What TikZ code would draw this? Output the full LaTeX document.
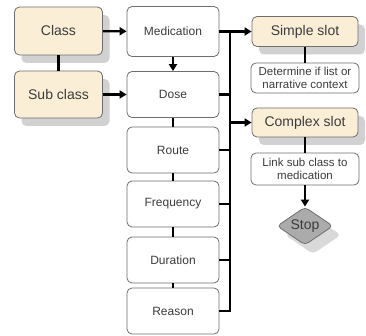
\documentclass[tikz,border=0pt]{standalone}
\usepackage{fontspec}
\setmainfont{Liberation Sans}
\usetikzlibrary{positioning,arrows.meta,shapes.geometric,shadows}
\definecolor{slottan}{HTML}{FAEFD6}
\definecolor{boxline}{HTML}{6E6E6E}
\definecolor{txtgray}{HTML}{3C3C3C}

\begin{document}
\begin{tikzpicture}[x=1pt,y=-1pt,>={Triangle[length=7pt,width=8pt]},
  tanbox/.style={draw=boxline,line width=0.8pt,rounded corners=5pt,fill=slottan,text=txtgray,font=\fontsize{14}{16}\selectfont,drop shadow={shadow xshift=7pt,shadow yshift=-8pt,fill=black!18,opacity=1}},
  medbox/.style={draw=boxline,line width=0.8pt,rounded corners=5pt,fill=white,text=txtgray,font=\fontsize{12}{14}\selectfont,minimum width=92pt,minimum height=46pt},
  notebox/.style={draw=boxline,line width=0.8pt,rounded corners=5pt,fill=white,text=txtgray,font=\fontsize{11.5}{12.5}\selectfont,align=center,minimum width=108pt,minimum height=30pt,inner sep=1pt},
  conn/.style={line width=2.2pt}]
\useasboundingbox (0,0) rectangle (366,336);
\node[tanbox,minimum width=88pt,minimum height=48pt] (class) at (58.5,31) {Class};
\node[tanbox,minimum width=88pt,minimum height=47pt] (subclass) at (58.5,94.5) {Sub class};
\node[medbox,minimum height=50pt] (med) at (173,31.5) {Medication};
\node[medbox] (dose) at (173,94.5) {Dose};
\node[medbox] (route) at (173,150) {Route};
\node[medbox] (freq) at (173,204) {Frequency};
\node[medbox] (dur) at (173,260) {Duration};
\node[medbox] (reason) at (173,311) {Reason};
\node[tanbox,minimum width=106pt,minimum height=30pt] (simple) at (305,31.5) {Simple slot};
\node[notebox] (determine) at (305,78) {Determine if list or\\narrative context};
\node[tanbox,minimum width=106pt,minimum height=29pt] (complex) at (305,122.5) {Complex slot};
\node[notebox,minimum height=32pt] (link) at (305,169) {Link sub class to\\medication};
\node[diamond,aspect=1.45,draw=boxline,line width=0.8pt,rounded corners=4pt,fill=black!33,text=txtgray,font=\fontsize{14}{16}\selectfont,minimum width=56pt,minimum height=38pt,inner sep=0pt,drop shadow={shadow xshift=8pt,shadow yshift=-9pt,fill=black!15,opacity=1}] (stop) at (305,226) {Stop};
\coordinate (bus) at (230,31.5);
% left column into the list
\draw[conn] (class) -- (subclass);
\draw[conn,->] (class) -- (med);
\draw[conn,->] (subclass) -- (dose);
\draw[conn,->] (med) -- (dose);
\draw[conn] (dose) -- (route);
\draw[conn] (route) -- (freq);
\draw[conn] (freq) -- (dur);
\draw[conn] (dur) -- (reason);
% bus to the slots
\draw[conn] (med.east) -- (bus) |- (reason.east);
\foreach \n in {dose,route,freq,dur}
  \draw[conn] (\n.east) -- (\n.east -| bus);
\draw[conn,->] (bus) -- (simple.west);
\draw[conn,->] (complex.west -| bus) -- (complex.west);
\draw[conn] (simple) -- (determine);
\draw[conn] (complex) -- (link);
\draw[conn,->] (link) -- (stop);
\end{tikzpicture}
\end{document}
